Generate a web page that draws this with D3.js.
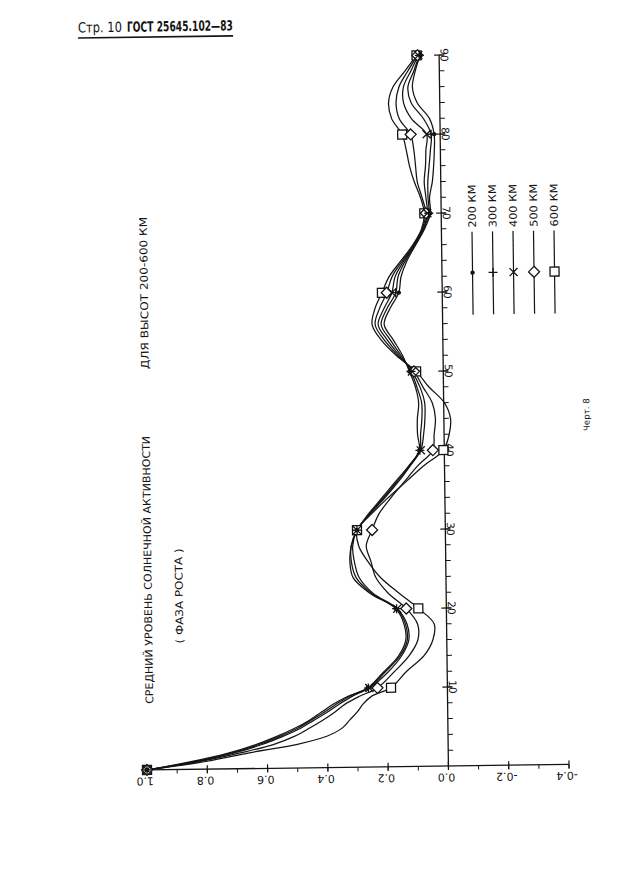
<!DOCTYPE html>
<html><head><meta charset="utf-8">
<script src="https://cdn.jsdelivr.net/npm/d3@7"></script>
<style>html,body{margin:0;padding:0;background:#fff;} svg{display:block;}</style>
</head><body>
<svg id="c" width="636" height="884"></svg>
<script>
// ---- data ----
const xs = [0,1,2,3,4,5,6,7,8,9,10,12,14,16,18,20,22,24,26,28,30,32,34,36,38,40,42,44,46,48,50,52,54,56,58,60,62,64,66,68,70,72,74,76,78,80,82,84,86,88,90];
const s200 = [1.0,0.85,0.73,0.64,0.57,0.51,0.46,0.42,0.38,0.33,0.265,
  0.211,0.161,0.136,0.141,0.168,0.253,0.308,0.318,0.313,0.293,
  0.255,0.21,0.165,0.12,0.083,0.088,0.088,0.083,0.093,0.112,
  0.134,0.164,0.194,0.174,0.144,0.136,0.116,0.086,0.056,0.036,
  0.038,0.028,0.023,0.02,0.02,0.035,0.075,0.09,0.08,0.063];
const s300 = [1.0,0.84,0.72,0.63,0.56,0.50,0.455,0.41,0.37,0.325,0.262,
  0.206,0.156,0.131,0.136,0.165,0.248,0.298,0.313,0.313,0.293,
  0.252,0.205,0.16,0.117,0.081,0.078,0.073,0.073,0.088,0.107,
  0.139,0.174,0.204,0.184,0.154,0.146,0.121,0.089,0.059,0.041,
  0.043,0.043,0.038,0.033,0.03,0.055,0.095,0.105,0.085,0.066];
const s400 = [1.0,0.83,0.71,0.62,0.55,0.49,0.445,0.40,0.36,0.315,0.259,
  0.196,0.151,0.126,0.131,0.163,0.243,0.288,0.303,0.308,0.293,
  0.25,0.20,0.155,0.115,0.078,0.068,0.063,0.063,0.078,0.104,
  0.144,0.184,0.214,0.194,0.167,0.156,0.126,0.091,0.061,0.046,
  0.05,0.055,0.05,0.048,0.045,0.095,0.12,0.12,0.095,0.069];
const s500 = [1.0,0.82,0.69,0.58,0.51,0.46,0.415,0.375,0.34,0.29,0.232,
  0.176,0.126,0.096,0.096,0.133,0.193,0.233,0.248,0.263,0.243,
  0.22,0.18,0.135,0.09,0.038,0.033,0.028,0.038,0.068,0.097,
  0.149,0.194,0.224,0.209,0.184,0.166,0.131,0.093,0.064,0.051,
  0.063,0.078,0.083,0.088,0.098,0.135,0.145,0.135,0.105,0.072];
const s600 = [1.0,0.80,0.66,0.50,0.40,0.35,0.325,0.30,0.28,0.25,0.187,
  0.136,0.076,0.046,0.041,0.093,0.158,0.218,0.258,0.288,0.293,
  0.245,0.19,0.13,0.07,0.003,-0.017,-0.022,-0.002,0.048,0.09,
  0.154,0.204,0.234,0.224,0.20,0.176,0.136,0.096,0.066,0.056,
  0.068,0.088,0.103,0.113,0.126,0.16,0.17,0.155,0.115,0.075];
const seriesNames = ["200 КМ","300 КМ","400 КМ","500 КМ","600 КМ"];
const markerTypes = ["dot","plus","cross","diamond","square"];
const markerXs = [0,10,20,30,40,50,60,70,80,90];
const valueTicks = [1.0,0.8,0.6,0.4,0.2,0.0,-0.2,-0.4];
const valueTickLabels = ["1.0","0.8","0.6","0.4","0.2","0.0","-0.2","-0.4"];
const xTicks = [10,20,30,40,50,60,70,80,90];
const xTickLabels = ["10","20","30","40","50","60","70","80","90"];

const allSeries = [s200,s300,s400,s500,s600];

// ---- layout ----
const svg = d3.select("#c");
const ink = "#141414";
const font = "'DejaVu Sans', sans-serif";

// header
const hdr = svg.append("g").attr("transform","rotate(-0.8,78,32)");
hdr.append("text").attr("x",78).attr("y",32.5).attr("font-family",font).attr("font-size",14)
  .attr("fill",ink).attr("textLength",44).attr("lengthAdjust","spacingAndGlyphs").text("Стр. 10");
hdr.append("text").attr("x",127).attr("y",32.5).attr("font-family",font).attr("font-size",14).attr("font-weight","bold")
  .attr("fill",ink).attr("textLength",106).attr("lengthAdjust","spacingAndGlyphs").text("ГОСТ 25645.102—83");
hdr.append("line").attr("x1",78).attr("x2",233).attr("y1",38).attr("y2",38)
  .attr("stroke",ink).attr("stroke-width",1.6);

// chart group (scan is slightly tilted)
const g = svg.append("g").attr("transform","rotate(-0.75,448,766)");

const xS = d3.scaleLinear().domain([0,90]).range([766,55]);      // argument -> vertical pixel
const vS = d3.scaleLinear().domain([1.0,-0.4]).range([147,569]); // value -> horizontal pixel
const x0 = vS(0), y0 = xS(0);

// value axis (horizontal)
g.append("line").attr("x1",vS(1.0)).attr("x2",vS(-0.4)).attr("y1",y0).attr("y2",y0)
  .attr("stroke",ink).attr("stroke-width",1.3);
const minorV = d3.range(-4,11).map(i=>i/10);
g.selectAll(".mv").data(minorV).enter().append("line")
  .attr("x1",d=>vS(d)).attr("x2",d=>vS(d)).attr("y1",y0).attr("y2",y0+4)
  .attr("stroke",ink).attr("stroke-width",1);
g.selectAll(".Mv").data(valueTicks).enter().append("line")
  .attr("x1",d=>vS(d)).attr("x2",d=>vS(d)).attr("y1",y0-4).attr("y2",y0+4)
  .attr("stroke",ink).attr("stroke-width",1.2);
g.selectAll(".lv").data(valueTicks).enter().append("text")
  .attr("transform",d=>`translate(${vS(d)-2},${y0+11}) rotate(180)`)
  .attr("text-anchor","middle").attr("dominant-baseline","central")
  .attr("font-family",font).attr("font-size",11).attr("fill",ink)
  .text((d,i)=>valueTickLabels[i]);

// argument axis (vertical)
g.append("line").attr("x1",x0).attr("x2",x0).attr("y1",y0).attr("y2",xS(90))
  .attr("stroke",ink).attr("stroke-width",1.3);
const minorX = d3.range(2,91,2);
g.selectAll(".mx").data(minorX).enter().append("line")
  .attr("x1",x0).attr("x2",x0+5).attr("y1",d=>xS(d)).attr("y2",d=>xS(d))
  .attr("stroke",ink).attr("stroke-width",1);
g.selectAll(".Mx").data(xTicks).enter().append("line")
  .attr("x1",x0-5).attr("x2",x0+5).attr("y1",d=>xS(d)).attr("y2",d=>xS(d))
  .attr("stroke",ink).attr("stroke-width",1.2);
g.selectAll(".lx").data(xTicks).enter().append("text")
  .attr("transform",d=>`translate(${x0+5.5},${xS(d)}) rotate(90)`)
  .attr("text-anchor","middle").attr("dominant-baseline","central")
  .attr("font-family",font).attr("font-size",10.5).attr("fill",ink)
  .text((d,i)=>xTickLabels[i]);

// curves
const line = d3.line().x(d=>vS(d[1])).y(d=>xS(d[0])).curve(d3.curveCatmullRom.alpha(0.5));
allSeries.forEach(s=>{
  g.append("path").attr("d",line(xs.map((x,i)=>[x,s[i]])))
    .attr("fill","none").attr("stroke",ink).attr("stroke-width",1.25);
});

function drawMarker(sel,type,cx,cy){
  const m = sel.append("g").attr("transform",`translate(${cx},${cy})`);
  if(type==="dot") m.append("circle").attr("r",2.2).attr("fill",ink);
  else if(type==="plus") m.append("path").attr("d","M-4.5,0H4.5M0,-4.5V4.5").attr("stroke",ink).attr("stroke-width",1.3);
  else if(type==="cross") m.append("path").attr("d","M-4,-4L4,4M-4,4L4,-4").attr("stroke",ink).attr("stroke-width",1.3);
  else if(type==="diamond") m.append("path").attr("d","M0,-5.5L5.5,0L0,5.5L-5.5,0Z").attr("fill","#fff").attr("stroke",ink).attr("stroke-width",1.3);
  else if(type==="square") m.append("rect").attr("x",-4.5).attr("y",-4.5).attr("width",9).attr("height",9).attr("fill","#fff").attr("stroke",ink).attr("stroke-width",1.3);
}
// markers (squares/diamonds first so thin marks stay visible)
[4,3,2,1,0].forEach(k=>{
  markerXs.forEach(mx=>{
    const i = xs.indexOf(mx);
    drawMarker(g,markerTypes[k],vS(allSeries[k][i]),xS(mx));
  });
});

// titles
function vtext(x,y,len,size,txt){
  g.append("text").attr("transform",`translate(${x},${y}) rotate(-90)`)
    .attr("dominant-baseline","central").attr("font-family",font).attr("font-size",size)
    .attr("fill",ink).attr("textLength",len).attr("lengthAdjust","spacingAndGlyphs").text(txt);
}
vtext(150,700,268,10.5,"СРЕДНИЙ УРОВЕНЬ СОЛНЕЧНОЙ АКТИВНОСТИ");
vtext(181,640,95,10.5,"( ФАЗА РОСТА )");
vtext(150,365,152,10.5,"ДЛЯ ВЫСОТ 200-600 КМ");
vtext(591,433,33,8.5,"Черт. 8");

// legend
const lx = d3.scalePoint().domain(seriesNames).range([479,561]);
seriesNames.forEach((n,k)=>{
  const x = lx(n);
  g.append("line").attr("x1",x).attr("x2",x).attr("y1",232).attr("y2",315).attr("stroke",ink).attr("stroke-width",1.2);
  drawMarker(g,markerTypes[k],x,273);
  vtext(x,228,43,10.5,n);
});
</script>
</body></html>
